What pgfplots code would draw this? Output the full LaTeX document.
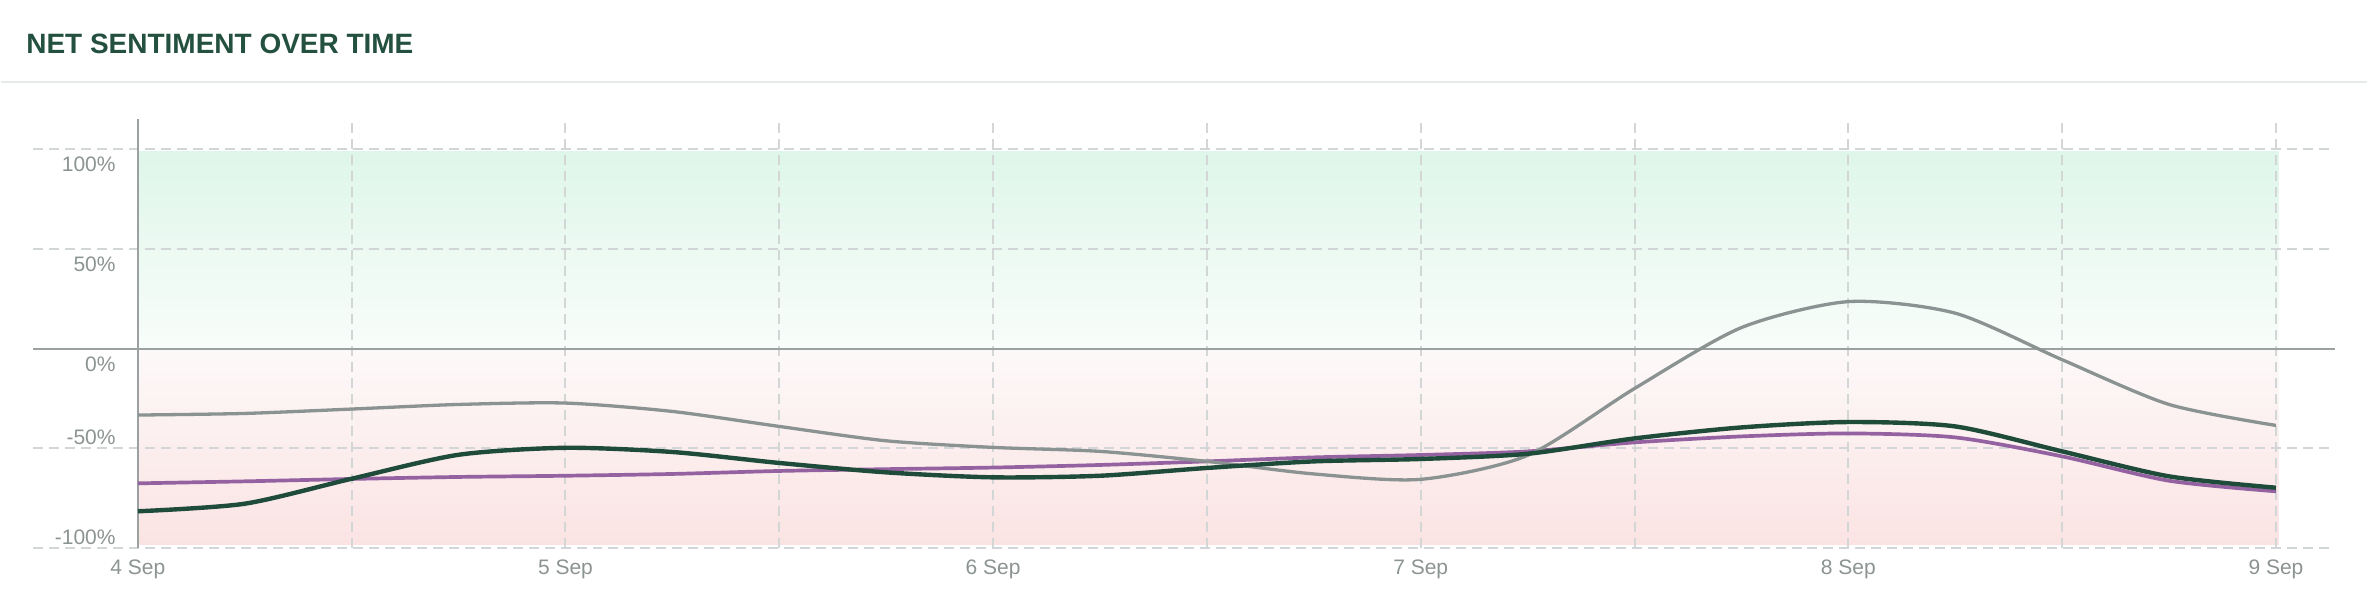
\documentclass[border=0pt]{standalone}
\usepackage{pgfplots}
\pgfplotsset{compat=1.18}
\usepackage{fontspec}
\setmainfont{Liberation Sans}
\definecolor{titlegreen}{HTML}{24503F}
\definecolor{seriesgray}{HTML}{8A9391}
\definecolor{seriesgreen}{HTML}{1F4B3B}
\definecolor{seriespurple}{HTML}{9462A0}
\definecolor{labelgray}{HTML}{8C9492}
\definecolor{gridgray}{HTML}{D2D6D6}
\definecolor{zerogray}{HTML}{9AA1A0}
\definecolor{sepgray}{HTML}{E6EAEA}
\definecolor{posTop}{HTML}{DFF6EA}
\definecolor{posBot}{HTML}{F8FDFA}
\definecolor{negTop}{HTML}{FDF9F9}
\definecolor{negBot}{HTML}{FBE3E3}
\begin{document}
\begin{tikzpicture}
\fill[white] (0pt,0pt) rectangle (1184pt,308pt);
\node[anchor=base west, font=\fontsize{14}{16}\selectfont\bfseries, text=titlegreen, inner sep=0] at (12.5pt,281pt) {NET SENTIMENT OVER TIME};
\draw[sepgray, line width=1pt] (0pt,267.15pt) -- (1184pt,267.15pt);
\begin{axis}[
  at={(16pt,33.65pt)}, anchor=south west, scale only axis,
  width=1152pt, height=214.85pt,
  xmin=3.7547, xmax=9.138, ymin=-100, ymax=115,
  axis line style={draw=none},
  xtick={4,5,6,7,8,9},
  xticklabels={4 Sep,5 Sep,6 Sep,7 Sep,8 Sep,9 Sep},
  xticklabel style={anchor=base, yshift=-13.15pt, inner sep=0pt, font=\fontsize{10.5}{12}\selectfont, text=labelgray},
  ytick=\empty,
  tick style={draw=none},
  clip=false,
]
\fill[top color=posTop, bottom color=posBot] (axis cs:4,0) rectangle (axis cs:9.007,98.5);
\fill[top color=negTop, bottom color=negBot] (axis cs:4,-98.3) rectangle (axis cs:9.007,0);
\pgfplotsinvokeforeach{4.5,5,5.5,6,6.5,7,7.5,8,8.5,9}{
  \draw[gridgray, line width=1pt, dash pattern=on 5pt off 3pt] (axis cs:#1,-100) -- (axis cs:#1,115);
}
\pgfplotsinvokeforeach{-100,-50,50,100}{
  \draw[gridgray, line width=1pt, dash pattern=on 5pt off 3pt] (axis cs:3.7547,#1) -- (axis cs:9.138,#1);
}
\draw[zerogray, line width=1pt] (axis cs:3.7547,0) -- (axis cs:9.138,0);
\draw[zerogray, line width=1pt] (axis cs:4,-100) -- (axis cs:4,115);
\addplot[seriespurple, line width=1.85pt, smooth, tension=0.45, no marks] coordinates {
(4,-67.5) (4.25,-66.5) (4.5,-65.3) (4.75,-64.3) (5,-63.7) (5.25,-62.8) (5.5,-61.3) (5.75,-60.4)
(6,-59.6) (6.25,-58.3) (6.5,-56.5) (6.75,-54.5) (7,-53.3) (7.25,-51.5) (7.5,-47) (7.75,-44)
(8,-42.5) (8.25,-44.5) (8.5,-54) (8.75,-66.2) (9,-71.5)};
\addplot[seriesgray, line width=1.65pt, smooth, tension=0.45, no marks] coordinates {
(4,-33.3) (4.25,-32.5) (4.5,-30.3) (4.75,-28) (5,-27.3) (5.25,-31.5) (5.5,-39) (5.75,-46.2)
(6,-49.5) (6.25,-51.5) (6.5,-56.5) (6.75,-62.8) (7,-65.5) (7.25,-53.5) (7.5,-20) (7.75,10.5)
(8,23.5) (8.25,17.7) (8.5,-5.6) (8.75,-28) (9,-38.5)};
\addplot[seriesgreen, line width=2.2pt, smooth, tension=0.45, no marks] coordinates {
(4,-81.5) (4.25,-77.7) (4.5,-65.2) (4.75,-53.2) (5,-49.7) (5.25,-51.8) (5.5,-57.3) (5.75,-62)
(6,-64.5) (6.25,-63.7) (6.5,-59.8) (6.75,-56.5) (7,-55.3) (7.25,-52.7) (7.5,-45) (7.75,-39.5)
(8,-36.8) (8.25,-39) (8.5,-51.5) (8.75,-64) (9,-69.7)};
\end{axis}
\begin{scope}[font=\fontsize{10.5}{12}\selectfont, text=labelgray]
\node[anchor=base east, inner sep=0] at (57.5pt,222.15pt) {100\%};
\node[anchor=base east, inner sep=0] at (57.5pt,172.15pt) {50\%};
\node[anchor=base east, inner sep=0] at (57.5pt,122.15pt) {0\%};
\node[anchor=base east, inner sep=0] at (57.5pt,85.5pt) {-50\%};
\node[anchor=base east, inner sep=0] at (57.5pt,35.5pt) {-100\%};
\end{scope}
\end{tikzpicture}
\end{document}
